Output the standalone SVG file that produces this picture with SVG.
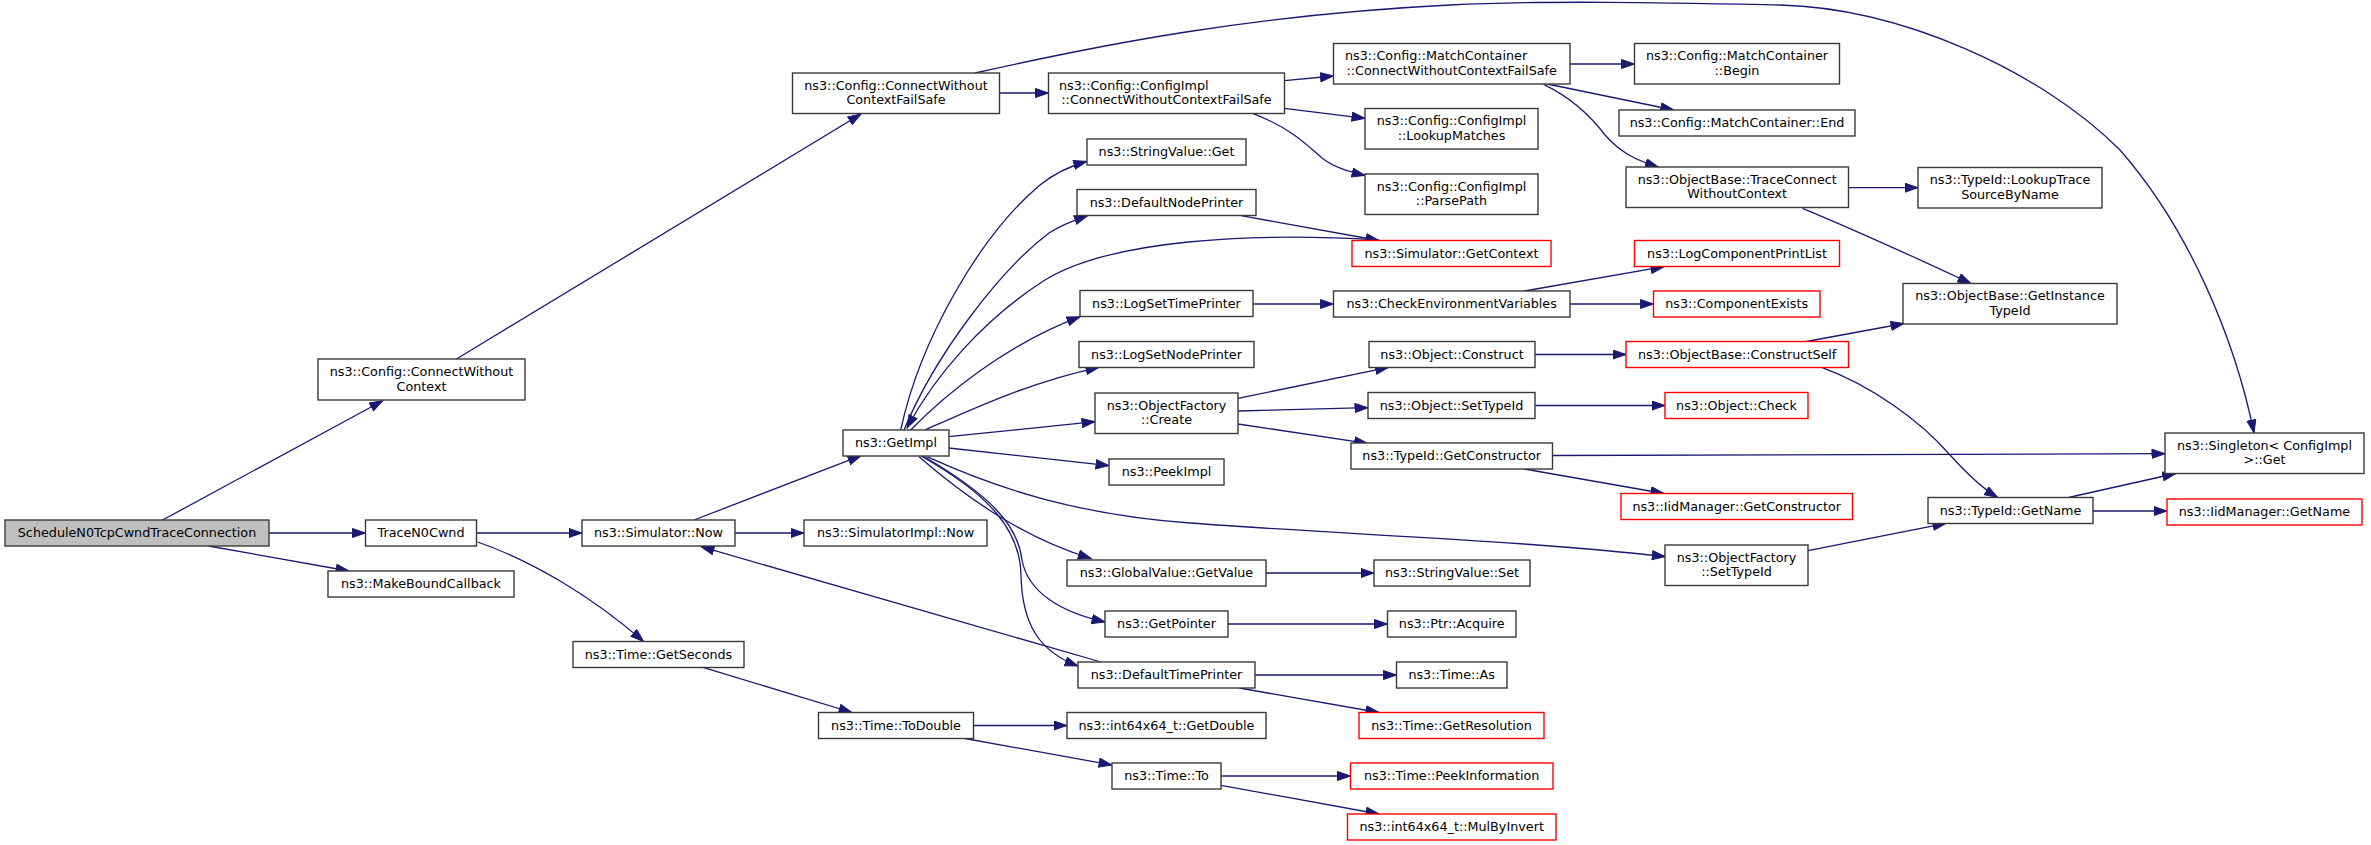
<svg xmlns="http://www.w3.org/2000/svg" width="2371" height="845" viewBox="0 0 2371 845">
<style>
.n rect{fill:#fff;stroke:#3a3a3a;stroke-width:1.4}
.r rect{stroke:#ff0000}
.g rect{fill:#bfbfbf}
text{font-family:"DejaVu Sans","Liberation Sans",sans-serif;font-size:12.75px;fill:#000;text-anchor:middle}
text.l{text-anchor:start}
#edges path{fill:none;stroke:#191970;stroke-width:1.3;marker-end:url(#ah)}
</style>
<defs>
<marker id="ah" markerUnits="userSpaceOnUse" markerWidth="15" markerHeight="12" refX="13.5" refY="5" orient="auto">
<path d="M0.5,0.5 L13.5,5 L0.5,9.5 z" fill="#191970" stroke="#191970" stroke-width="1"/>
</marker>
</defs>
<rect x="0" y="0" width="2371" height="845" fill="#fff"/>
<g id="edges">
<path d="M162.6,520 L382.7,400.7"/>
<path d="M269,533 L365.5,533"/>
<path d="M208.6,546 L349,571"/>
<path d="M456,359.3 L861,114"/>
<path d="M477,533 L582,533"/>
<path d="M477.6,542 C530,560 590,595 643.6,641.5"/>
<path d="M694,520 L861,455.7"/>
<path d="M735,533 L804,533"/>
<path d="M1101,662 L701,546.7"/>
<path d="M900.7,430 C920,340 980,235 1040,185 C1055,173 1070,166 1086.7,161.5"/>
<path d="M904,430 C935,355 1000,270 1049,233 C1060,226 1075,220 1087.5,215.7"/>
<path d="M1379,240 C1250,232 1110,240 1045,280 C985,318 935,375 907,428"/>
<path d="M910.7,430 C945,395 1005,345 1080,316.7"/>
<path d="M925,430 C970,410 1030,382 1099,367.3"/>
<path d="M948.6,436.7 L1095,421.7"/>
<path d="M948.6,448 L1109,465.7"/>
<path d="M927,456.7 C1000,490 1080,515 1190,523 C1350,535 1520,540 1665.3,556.7"/>
<path d="M919,456.7 C975,505 1030,540 1091.3,558.5"/>
<path d="M923,456 C990,495 1018,525 1022,560 C1028,592 1060,612 1105,622"/>
<path d="M921,456 C990,495 1020,530 1021,575 C1022,625 1040,652 1078,666"/>
<path d="M999,93 L1048.5,93"/>
<path d="M975,73 C1100,45 1250,15 1450,5 C1550,0 1680,3 1780,5 C1900,8 2040,70 2120,150 C2190,230 2235,340 2254,433"/>
<path d="M1284.5,80.7 L1333.5,76"/>
<path d="M1284.5,108.3 L1365,118.3"/>
<path d="M1252.7,113.3 C1290,128 1305,143 1322,158 C1335,168 1350,172 1365,175.5"/>
<path d="M1241,215.7 L1379,240.5"/>
<path d="M1570,64 L1634.5,64"/>
<path d="M1547.4,84 L1673.7,110"/>
<path d="M1543.6,84.3 C1570,97 1590,115 1605,135 C1620,152 1635,160 1658.4,167"/>
<path d="M1848.5,187.7 L1918,187.7"/>
<path d="M1802.5,208.3 C1850,228 1910,255 1971,283.5"/>
<path d="M1253,304 L1333.5,304"/>
<path d="M1524.4,291 L1664,266.7"/>
<path d="M1570,304 L1653.5,304"/>
<path d="M1238,398.3 L1388.6,367.3"/>
<path d="M1238,411 L1368,407.7"/>
<path d="M1238,424 L1367.5,443.3"/>
<path d="M1535,354.5 L1626,354.5"/>
<path d="M1535,405.5 L1665,405.5"/>
<path d="M1552.5,455.5 L2165,453.7"/>
<path d="M1524.4,469 L1664,493.5"/>
<path d="M1806.4,341.5 L1904,323.5"/>
<path d="M1821.7,367.3 C1870,385 1920,420 1950,455 C1970,477 1985,490 1997.7,497.5"/>
<path d="M1808,550.7 L1946,523.3"/>
<path d="M2068.5,497.5 L2175.7,473.5"/>
<path d="M2093,511 L2167,511"/>
<path d="M1266,573 L1374,573"/>
<path d="M1228,624 L1387.5,624"/>
<path d="M1255,675 L1396.5,675"/>
<path d="M1239.3,688 L1379,712.5"/>
<path d="M703,667.3 L852,712.5"/>
<path d="M973.5,725.5 L1067,725.5"/>
<path d="M965,738.5 L1112,765"/>
<path d="M1221,776 L1350.5,776"/>
<path d="M1221,785.3 L1379,814"/>
</g>
<g id="n_sched" class="n g"><rect x="5" y="520" width="264" height="26"/><text x="137" y="537">ScheduleN0TcpCwndTraceConnection</text></g>
<g id="n_cwc" class="n"><rect x="318" y="359" width="207" height="41"/><text x="421.5" y="375.5">ns3::Config::ConnectWithout</text><text x="421.5" y="390.5">Context</text></g>
<g id="n_trace" class="n"><rect x="365.5" y="520" width="111" height="26"/><text x="421" y="537">TraceN0Cwnd</text></g>
<g id="n_mbc" class="n"><rect x="328" y="571" width="186" height="26"/><text x="421" y="588">ns3::MakeBoundCallback</text></g>
<g id="n_simnow" class="n"><rect x="582" y="520" width="153" height="26"/><text x="658.5" y="537">ns3::Simulator::Now</text></g>
<g id="n_getsec" class="n"><rect x="573" y="641.5" width="171" height="26"/><text x="658.5" y="658.5">ns3::Time::GetSeconds</text></g>
<g id="n_cwcfs" class="n"><rect x="792.5" y="73" width="207" height="40.5"/><text x="896" y="89.5">ns3::Config::ConnectWithout</text><text x="896" y="104">ContextFailSafe</text></g>
<g id="n_getimpl" class="n"><rect x="843" y="430" width="106" height="26"/><text x="896" y="447">ns3::GetImpl</text></g>
<g id="n_simimplnow" class="n"><rect x="804" y="520" width="183" height="26"/><text x="895.5" y="537">ns3::SimulatorImpl::Now</text></g>
<g id="n_todouble" class="n"><rect x="818.5" y="712.5" width="155" height="26"/><text x="896" y="729.5">ns3::Time::ToDouble</text></g>
<g id="n_cicwcfs" class="n"><rect x="1048.5" y="73" width="236" height="40.5"/><text class="l" x="1059" y="89.5">ns3::Config::ConfigImpl</text><text x="1166.5" y="104">::ConnectWithoutContextFailSafe</text></g>
<g id="n_svget" class="n"><rect x="1087" y="139" width="159" height="26"/><text x="1166.5" y="156">ns3::StringValue::Get</text></g>
<g id="n_dnp" class="n"><rect x="1077" y="189.5" width="179" height="26"/><text x="1166.5" y="206.5">ns3::DefaultNodePrinter</text></g>
<g id="n_lstp" class="n"><rect x="1080" y="290.5" width="173" height="26"/><text x="1166.5" y="307.5">ns3::LogSetTimePrinter</text></g>
<g id="n_lsnp" class="n"><rect x="1079" y="341.5" width="175" height="26"/><text x="1166.5" y="358.5">ns3::LogSetNodePrinter</text></g>
<g id="n_ofcreate" class="n"><rect x="1095" y="393" width="143" height="40.5"/><text x="1166.5" y="409.5">ns3::ObjectFactory</text><text x="1166.5" y="424">::Create</text></g>
<g id="n_peekimpl" class="n"><rect x="1109" y="459" width="115" height="26"/><text x="1166.5" y="476">ns3::PeekImpl</text></g>
<g id="n_gvgetvalue" class="n"><rect x="1067" y="560" width="199" height="26"/><text x="1166.5" y="577">ns3::GlobalValue::GetValue</text></g>
<g id="n_getpointer" class="n"><rect x="1105" y="611" width="123" height="26"/><text x="1166.5" y="628">ns3::GetPointer</text></g>
<g id="n_dtp" class="n"><rect x="1078" y="662" width="177" height="26"/><text x="1166.5" y="679">ns3::DefaultTimePrinter</text></g>
<g id="n_getdouble" class="n"><rect x="1067" y="712.5" width="199" height="26"/><text x="1166.5" y="729.5">ns3::int64x64_t::GetDouble</text></g>
<g id="n_timeto" class="n"><rect x="1112" y="763" width="109" height="26"/><text x="1166.5" y="780">ns3::Time::To</text></g>
<g id="n_mccwcfs" class="n"><rect x="1333.5" y="43.5" width="236.5" height="40.5"/><text class="l" x="1345" y="60">ns3::Config::MatchContainer</text><text x="1451.7" y="74.5">::ConnectWithoutContextFailSafe</text></g>
<g id="n_lookup" class="n"><rect x="1365" y="108.5" width="173" height="40.5"/><text x="1451.5" y="125">ns3::Config::ConfigImpl</text><text x="1451.5" y="139.5">::LookupMatches</text></g>
<g id="n_parse" class="n"><rect x="1365" y="174" width="173" height="40.5"/><text x="1451.5" y="190.5">ns3::Config::ConfigImpl</text><text x="1451.5" y="205">::ParsePath</text></g>
<g id="n_getctx" class="n r"><rect x="1352" y="240.5" width="199" height="26"/><text x="1451.5" y="257.5">ns3::Simulator::GetContext</text></g>
<g id="n_cev" class="n"><rect x="1333.5" y="291" width="236.5" height="26"/><text x="1451.7" y="308">ns3::CheckEnvironmentVariables</text></g>
<g id="n_objconstruct" class="n"><rect x="1369" y="341.5" width="166" height="26"/><text x="1452" y="358.5">ns3::Object::Construct</text></g>
<g id="n_objsettypeid" class="n"><rect x="1368" y="392.5" width="167" height="26"/><text x="1451.5" y="409.5">ns3::Object::SetTypeId</text></g>
<g id="n_getctor" class="n"><rect x="1351" y="443" width="201.5" height="26"/><text x="1451.7" y="460">ns3::TypeId::GetConstructor</text></g>
<g id="n_svset" class="n"><rect x="1374" y="560" width="156" height="26"/><text x="1452" y="577">ns3::StringValue::Set</text></g>
<g id="n_ptracquire" class="n"><rect x="1387.5" y="611" width="128.5" height="26"/><text x="1451.7" y="628">ns3::Ptr::Acquire</text></g>
<g id="n_timeas" class="n"><rect x="1396.5" y="662" width="110.5" height="26"/><text x="1451.7" y="679">ns3::Time::As</text></g>
<g id="n_getres" class="n r"><rect x="1359" y="712.5" width="185" height="26"/><text x="1451.5" y="729.5">ns3::Time::GetResolution</text></g>
<g id="n_peekinfo" class="n r"><rect x="1350.5" y="763" width="202.5" height="26"/><text x="1451.7" y="780">ns3::Time::PeekInformation</text></g>
<g id="n_mulbyinv" class="n r"><rect x="1347.5" y="814" width="208.5" height="26"/><text x="1451.7" y="831">ns3::int64x64_t::MulByInvert</text></g>
<g id="n_mcbegin" class="n"><rect x="1634.5" y="43.5" width="205" height="40.5"/><text x="1737" y="60">ns3::Config::MatchContainer</text><text x="1737" y="74.5">::Begin</text></g>
<g id="n_mcend" class="n"><rect x="1619" y="110" width="236" height="26"/><text x="1737" y="127">ns3::Config::MatchContainer::End</text></g>
<g id="n_tcwc" class="n"><rect x="1626" y="167" width="222.5" height="40.5"/><text x="1737.2" y="183.5">ns3::ObjectBase::TraceConnect</text><text x="1737.2" y="198">WithoutContext</text></g>
<g id="n_lcpl" class="n r"><rect x="1634.5" y="240.5" width="205" height="26"/><text x="1737" y="257.5">ns3::LogComponentPrintList</text></g>
<g id="n_compexists" class="n r"><rect x="1653.5" y="291" width="166.5" height="26"/><text x="1736.7" y="308">ns3::ComponentExists</text></g>
<g id="n_constructself" class="n r"><rect x="1626" y="341.5" width="222.5" height="26"/><text x="1737.2" y="358.5">ns3::ObjectBase::ConstructSelf</text></g>
<g id="n_objcheck" class="n r"><rect x="1665" y="392.5" width="143" height="26"/><text x="1736.5" y="409.5">ns3::Object::Check</text></g>
<g id="n_iidgetctor" class="n r"><rect x="1621" y="493.5" width="231.5" height="26"/><text x="1736.7" y="510.5">ns3::IidManager::GetConstructor</text></g>
<g id="n_ofsettypeid" class="n"><rect x="1665" y="545" width="143" height="40.5"/><text x="1736.5" y="561.5">ns3::ObjectFactory</text><text x="1736.5" y="576">::SetTypeId</text></g>
<g id="n_lookuptrace" class="n"><rect x="1918" y="167.5" width="184" height="40.5"/><text x="2010" y="184">ns3::TypeId::LookupTrace</text><text x="2010" y="198.5">SourceByName</text></g>
<g id="n_getinsttypeid" class="n"><rect x="1903" y="283.5" width="214" height="40.5"/><text x="2010" y="300">ns3::ObjectBase::GetInstance</text><text x="2010" y="314.5">TypeId</text></g>
<g id="n_getname" class="n"><rect x="1928" y="497.5" width="165" height="26"/><text x="2010.5" y="514.5">ns3::TypeId::GetName</text></g>
<g id="n_singleton" class="n"><rect x="2165" y="433" width="199" height="40.5"/><text x="2264.5" y="449.5">ns3::Singleton&lt; ConfigImpl</text><text x="2264.5" y="464">&gt;::Get</text></g>
<g id="n_iidgetname" class="n r"><rect x="2167" y="499" width="195" height="26"/><text x="2264.5" y="516">ns3::IidManager::GetName</text></g>
</svg>
